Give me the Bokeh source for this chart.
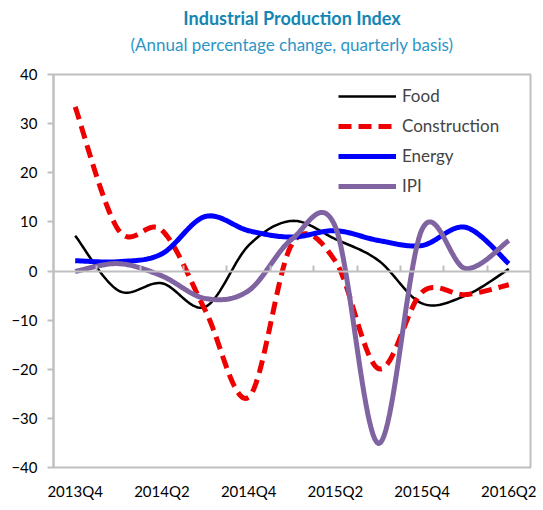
from bokeh.plotting import figure
from bokeh.models import Range1d, LinearAxis, FixedTicker, Legend, LegendItem
from bokeh.embed import file_html
from bokeh.resources import INLINE

quarters = ["2013Q4", "2014Q1", "2014Q2", "2014Q3", "2014Q4", "2015Q1",
            "2015Q2", "2015Q3", "2015Q4", "2016Q1", "2016Q2"]
food = [7.2, -4.0, -2.5, -7.3, 5.2, 10.2, 6.5, 2.1, -6.6, -5.0, 0.4]
construction = [33.4, 8.3, 8.3, -8.0, -25.7, 5.5, 2.0, -19.9, -4.3, -4.8, -2.8]
energy = [2.1, 1.9, 3.5, 11.1, 8.2, 6.9, 8.2, 6.2, 5.2, 8.9, 1.5]
ipi = [-0.1, 1.5, -1.0, -5.6, -4.0, 6.5, 9.0, -35.1, 8.5, 0.5, 6.2]
y_ticks = [-40, -30, -20, -10, 0, 10, 20, 30, 40]
label_idx = [0, 2, 4, 6, 8, 10]

FONT = "Lato"


def smooth(ys, n=24):
    """Excel-style smoothed line (Catmull-Rom Bezier) through the points."""
    xs = list(range(len(ys)))
    pts = list(zip(xs, ys))
    ox, oy = [], []
    for i in range(len(pts) - 1):
        p0 = pts[i - 1] if i > 0 else pts[i]
        p1 = pts[i]
        p2 = pts[i + 1]
        p3 = pts[i + 2] if i + 2 < len(pts) else pts[i + 1]
        c1 = (p1[0] + (p2[0] - p0[0]) / 6, p1[1] + (p2[1] - p0[1]) / 6)
        c2 = (p2[0] - (p3[0] - p1[0]) / 6, p2[1] - (p3[1] - p1[1]) / 6)
        for k in range(n + (1 if i == len(pts) - 2 else 0)):
            t = k / n
            a = (1 - t) ** 3
            b = 3 * (1 - t) ** 2 * t
            c = 3 * (1 - t) * t ** 2
            d = t ** 3
            ox.append(a * p1[0] + b * c1[0] + c * c2[0] + d * p2[0])
            oy.append(a * p1[1] + b * c1[1] + c * c2[1] + d * p2[1])
    return ox, oy


p = figure(width=540, height=506,
           x_range=Range1d(-0.5, len(quarters) - 0.5),
           y_range=Range1d(-40, 40),
           output_backend="svg", toolbar_location=None,
           min_border_left=53, min_border_right=10,
           min_border_top=74, min_border_bottom=39)

xa = p.below[0]
ya = p.left[0]

p.title.text = "Industrial Production Index"
p.title.align = "center"
p.title.text_font = FONT
p.title.text_font_size = "18px"
p.title.text_font_style = "bold"
p.title.text_color = "#1386b5"
p.title.standoff = 3

p.xgrid.visible = False
p.ygrid.visible = False
p.outline_line_color = "#bfbfbf"
p.outline_line_width = 2
p.background_fill_color = "white"
p.border_fill_color = "white"

xa.ticker = FixedTicker(ticks=label_idx)
xa.major_label_overrides = {i: quarters[i] for i in label_idx}
xa.axis_line_color = None
xa.major_tick_line_color = None
xa.minor_tick_line_color = None
xa.major_label_standoff = 8
xa.major_label_text_font = FONT
xa.major_label_text_font_size = "15px"
xa.major_label_text_color = "black"

ya.ticker = FixedTicker(ticks=y_ticks)
ya.axis_line_color = "#bfbfbf"
ya.axis_line_width = 2
ya.major_tick_line_color = "#bfbfbf"
ya.major_tick_line_width = 2
ya.major_tick_in = 0
ya.major_tick_out = 6
ya.minor_tick_line_color = None
ya.major_label_standoff = 10
ya.major_label_text_font = FONT
ya.major_label_text_font_size = "15px"
ya.major_label_text_color = "black"

# subtitle drawn as the label of an otherwise empty top axis (controls its gap to the frame)
sub_axis = LinearAxis(ticker=FixedTicker(ticks=[]),
                      axis_label="(Annual percentage change, quarterly basis)",
                      axis_label_text_font=FONT, axis_label_text_font_size="17px",
                      axis_label_text_font_style="normal", axis_label_text_color="#2e95c6",
                      axis_label_standoff=20,
                      axis_line_color=None, major_tick_line_color=None,
                      minor_tick_line_color=None, major_tick_out=0, major_tick_in=0,
                      major_label_standoff=0)
p.add_layout(sub_axis, "above")

boundaries = [i + 0.5 for i in range(len(quarters) - 1)]
zero_axis = LinearAxis(fixed_location=0,
                       ticker=FixedTicker(ticks=boundaries),
                       major_label_overrides={b: "" for b in boundaries},
                       axis_line_color="#bfbfbf", axis_line_width=2,
                       major_tick_line_color="#bfbfbf", major_tick_line_width=2,
                       major_tick_in=6, major_tick_out=0,
                       minor_tick_line_color=None,
                       major_label_standoff=0)
p.add_layout(zero_axis, "below")

series = [
    ("Food", food, dict(line_color="black", line_width=2.5)),
    ("Construction", construction, dict(line_color="#ee0000", line_width=5, line_dash="13 7")),
    ("Energy", energy, dict(line_color="#0000ff", line_width=5)),
    ("IPI", ipi, dict(line_color="#8064a2", line_width=5)),
]

items = []
for name, ys, style in series:
    sx, sy = smooth(ys)
    r = p.line(sx, sy, line_join="round", **style)
    items.append(LegendItem(label=name, renderers=[r]))

legend = Legend(items=items, location=(285, 271),
                label_text_font=FONT, label_text_font_size="17px",
                glyph_width=58, glyph_height=20, label_standoff=6,
                spacing=9, padding=4, margin=0,
                background_fill_alpha=0, border_line_color=None)
p.add_layout(legend, "center")

open("out.html", "w").write(file_html(p, INLINE))
